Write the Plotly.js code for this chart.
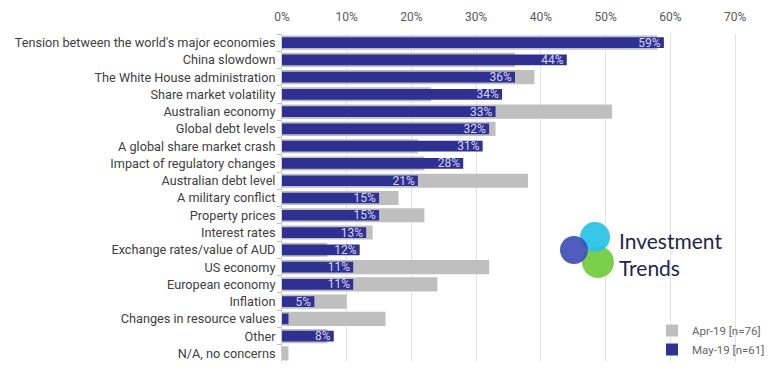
<!DOCTYPE html>
<html>
<head>
<meta charset="utf-8">
<script src="https://cdn.plot.ly/plotly-3.0.1.min.js"></script>
<style>html,body{margin:0;padding:0;background:#fff;}#chart{width:768px;height:372px;}</style>
</head>
<body>
<div id="chart"></div>
<script>
const categories = [
  "Tension between the world's major economies",
  "China slowdown",
  "The White House administration",
  "Share market volatility",
  "Australian economy",
  "Global debt levels",
  "A global share market crash",
  "Impact of regulatory changes",
  "Australian debt level",
  "A military conflict",
  "Property prices",
  "Interest rates",
  "Exchange rates/value of AUD",
  "US economy",
  "European economy",
  "Inflation",
  "Changes in resource values",
  "Other",
  "N/A, no concerns"
];
const apr19 = [58, 36, 39, 23, 51, 33, 21, 22, 38, 18, 22, 14, 7, 32, 24, 10, 16, 7, 1];
const may19 = [59, 44, 36, 34, 33, 32, 31, 28, 21, 15, 15, 13, 12, 11, 11, 5, 1, 8, 0];
const seriesNames = ["Apr-19 [n=76]", "May-19 [n=61]"];
const tickVals = [0, 10, 20, 30, 40, 50, 60, 70];
const tickText = ["0%", "10%", "20%", "30%", "40%", "50%", "60%", "70%"];

const W = 768, H = 372, L = 282, R = 31, T = 34, B = 10;
const pw = W - L - R, ph = H - T - B;
const px = x => (x - L) / pw;
const py = y => (H - B - y) / ph;

const traces = [
  {
    type: 'bar', orientation: 'h', name: seriesNames[0],
    y: categories, x: apr19, width: 0.82,
    marker: {color: '#bfbfbf'}, hoverinfo: 'skip'
  },
  {
    type: 'bar', orientation: 'h', name: seriesNames[1],
    y: categories, x: may19, width: 0.62,
    marker: {color: '#2f3192'},
    text: may19.map(v => v >= 5 ? v + '%' : ''),
    textposition: 'inside', insidetextanchor: 'end', constraintext: 'none',
    textfont: {family: 'Roboto', size: 12, color: '#d4d4f2'},
    textangle: 0, cliponaxis: false, hoverinfo: 'skip'
  }
];

function circ(cx, cy, r, color, op) {
  return {type: 'circle', xref: 'paper', yref: 'paper',
    x0: px(cx - r), x1: px(cx + r), y0: py(cy + r), y1: py(cy - r),
    fillcolor: color, opacity: op, line: {width: 0}, layer: 'above'};
}

const layout = {
  width: W, height: H,
  margin: {l: L, r: R, t: T, b: B, autoexpand: false},
  paper_bgcolor: '#ffffff', plot_bgcolor: '#ffffff',
  barmode: 'overlay',
  showlegend: true,
  font: {family: 'Roboto', size: 12, color: '#404040'},
  xaxis: {
    side: 'top', range: [0, 70.3], automargin: false,
    tickvals: tickVals, ticktext: tickText,
    showgrid: true, gridcolor: '#e3e3e3', gridwidth: 1,
    zeroline: false, showline: false, ticks: '',
    ticklabelstandoff: 10,
    tickfont: {family: 'Roboto', size: 12, color: '#595959'}
  },
  yaxis: {
    autorange: 'reversed', type: 'category', automargin: false,
    showline: true, linecolor: '#d0d0d0', linewidth: 1,
    ticks: 'outside', tickson: 'boundaries', ticklen: 4, tickcolor: '#bfbfbf',
    showgrid: false, zeroline: false,
    ticklabelstandoff: 3,
    tickfont: {family: 'Roboto', size: 12.7, color: '#404040'}
  },
  legend: {
    x: px(652), xanchor: 'left', y: py(316), yanchor: 'top',
    bgcolor: 'rgba(255,255,255,0)',
    font: {family: 'Roboto', size: 11.5, color: '#666666'},
    traceorder: 'normal', itemwidth: 30, tracegroupgap: 0
  },
  shapes: [
    circ(598, 262, 16, '#7ccf4a', 1),
    circ(595, 237, 15, '#2cc3e6', 0.95),
    circ(574, 250, 14, '#3f4fb5', 0.92)
  ],
  annotations: [
    {xref: 'paper', yref: 'paper', x: px(617), y: py(254), xanchor: 'left', yanchor: 'middle',
     align: 'left', text: 'Investment<br>Trends', showarrow: false,
     font: {family: 'Lato', size: 21, color: '#232548'}}
  ]
};

Plotly.newPlot('chart', traces, layout, {displayModeBar: false, staticPlot: true});
</script>
</body>
</html>
